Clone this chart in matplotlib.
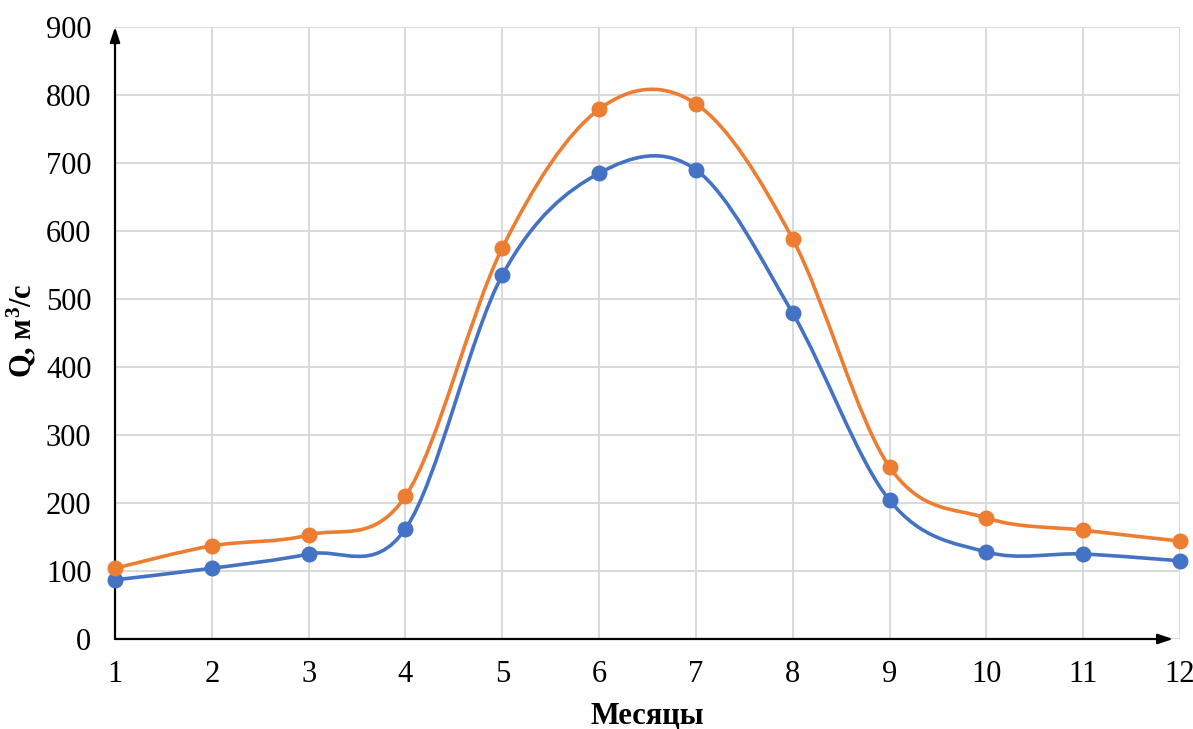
import matplotlib as mpl
mpl.use('Agg')
import matplotlib.pyplot as plt
from matplotlib.path import Path
from matplotlib.patches import PathPatch

months = [1, 2, 3, 4, 5, 6, 7, 8, 9, 10, 11, 12]
q_blue = [87, 104, 125, 162, 535, 685, 690, 479, 204, 128, 125, 115]
q_orange = [104, 137, 153, 210, 575, 779, 787, 588, 253, 178, 160, 144]
yticks = [0, 100, 200, 300, 400, 500, 600, 700, 800, 900]

plt.rcParams['font.family'] = ['Liberation Serif', 'DejaVu Serif']
plt.rcParams['mathtext.fontset'] = 'custom'
plt.rcParams['mathtext.rm'] = 'Liberation Serif'
plt.rcParams['mathtext.bf'] = 'Liberation Serif:bold'


def smooth_path(xs, ys):
    # excel-like smoothed line: bezier segments with catmull-rom tangents
    pts = list(zip(xs, ys))
    n = len(pts)
    verts = [pts[0]]
    codes = [Path.MOVETO]
    for i in range(n - 1):
        p0 = pts[i - 1] if i > 0 else pts[i]
        p1 = pts[i]
        p2 = pts[i + 1]
        p3 = pts[i + 2] if i + 2 < n else pts[i + 1]
        c1 = (p1[0] + (p2[0] - p0[0]) / 6, p1[1] + (p2[1] - p0[1]) / 6)
        c2 = (p2[0] - (p3[0] - p1[0]) / 6, p2[1] - (p3[1] - p1[1]) / 6)
        verts += [c1, c2, p2]
        codes += [Path.CURVE4] * 3
    return Path(verts, codes)


fig = plt.figure(figsize=(11.93, 7.29), dpi=100)
ax = fig.add_axes([115 / 1193, 90 / 729, 1065 / 1193, 612 / 729])

for ys, col in [(q_blue, '#4472C4'), (q_orange, '#ED7D31')]:
    ax.add_patch(PathPatch(smooth_path(months, ys), facecolor='none',
                           edgecolor=col, lw=2.6, zorder=3, clip_on=False))
    ax.plot(months, ys, 'o', color=col, ms=10.5, zorder=4, clip_on=False)

ax.set_xlim(1, 12)
ax.set_ylim(0, 900)
ax.set_xticks(months)
ax.set_yticks(yticks)
ax.grid(True, color='#D9D9D9', lw=1.4)
ax.set_axisbelow(True)
for s in ax.spines.values():
    s.set_visible(False)
ax.tick_params(length=0, labelsize=22)
ax.tick_params(axis='x', pad=15)
ax.tick_params(axis='y', pad=17)

# axes with arrows
ax.annotate('', xy=(0.9935, 0), xytext=(0, 0), xycoords='axes fraction',
            arrowprops=dict(arrowstyle='-|>,head_length=0.9,head_width=0.3',
                            color='black', lw=1.6, shrinkA=0, shrinkB=0))
ax.annotate('', xy=(0, 1.0), xytext=(0, 0), xycoords='axes fraction',
            arrowprops=dict(arrowstyle='-|>,head_length=0.9,head_width=0.3',
                            color='black', lw=1.6, shrinkA=0, shrinkB=0))

fig.text(647 / 1193, 1 - 716 / 729, 'Месяцы', fontsize=22, fontweight='bold',
         ha='center', va='center')
fig.text(22 / 1193, 1 - 331 / 729, 'Q, м$\\mathbf{^3}$/с', fontsize=22,
         fontweight='bold', rotation=90, ha='center', va='center')

fig.savefig('out.png', dpi=100)
